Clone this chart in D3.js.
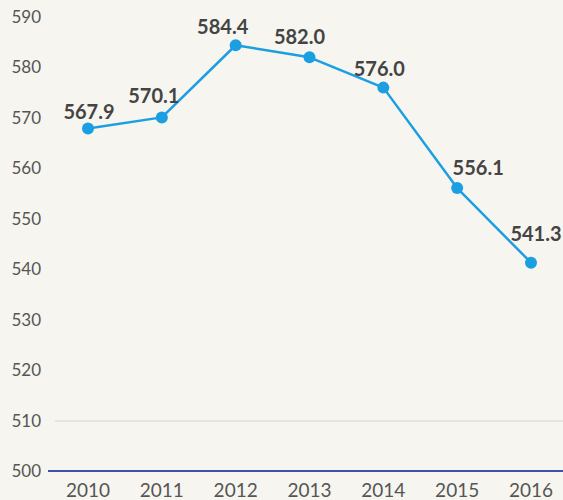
<!DOCTYPE html>
<html lang="en">
<head>
<meta charset="UTF-8">
<title>Line chart 2010-2016</title>
<script src="https://cdn.jsdelivr.net/npm/d3@7/dist/d3.min.js"></script>
<style>
  html, body { margin: 0; padding: 0; background: #f7f5ef; }
  svg { display: block; }
</style>
</head>
<body>
<svg id="chart"></svg>
<script>
    const years = ["2010", "2011", "2012", "2013", "2014", "2015", "2016"];
    const values = [567.9, 570.1, 584.4, 582.0, 576.0, 556.1, 541.3];
    const yTicks = [500, 510, 520, 530, 540, 550, 560, 570, 580, 590];

    // label nudges (dx, dy) relative to the dot, as in the original layout
    const labelShift = [[1, -16], [-8, -21], [-13, -18], [-10, -20], [-4, -19], [21, -20], [5, -29]];

    const width = 563, height = 500;

    const svg = d3.select("#chart")
        .attr("width", width)
        .attr("height", height);

    svg.append("rect")
        .attr("width", width)
        .attr("height", height)
        .attr("fill", "#f7f5ef");

    const x = d3.scalePoint()
        .domain(years)
        .range([88, 531]);

    const y = d3.scaleLinear()
        .domain([500, 590])
        .range([471, 17]);

    // y tick labels
    svg.append("g")
        .selectAll("text")
        .data(yTicks)
        .join("text")
        .attr("x", 41)
        .attr("y", d => y(d))
        .attr("dy", "0.35em")
        .attr("text-anchor", "end")
        .attr("fill", "#555")
        .style("font", "17px Lato, sans-serif")
        .text(d => d);

    // the one faint gridline at 510
    svg.append("line")
        .attr("x1", 55).attr("x2", width)
        .attr("y1", y(510) + 0.5).attr("y2", y(510) + 0.5)
        .attr("stroke", "#d9d6cf")
        .attr("stroke-width", 1);

    // baseline
    svg.append("line")
        .attr("x1", 48).attr("x2", width)
        .attr("y1", y(500)).attr("y2", y(500))
        .attr("stroke", "#3f51a8")
        .attr("stroke-width", 2);

    // x labels
    svg.append("g")
        .selectAll("text")
        .data(years)
        .join("text")
        .attr("x", d => x(d))
        .attr("y", 490)
        .attr("dy", "0.35em")
        .attr("text-anchor", "middle")
        .attr("fill", "#555")
        .style("font", "19px Lato, sans-serif")
        .text(d => d);

    const pts = years.map((yr, i) => ({year: yr, value: values[i], i: i}));

    const line = d3.line()
        .x(d => x(d.year))
        .y(d => y(d.value));

    svg.append("path")
        .datum(pts)
        .attr("fill", "none")
        .attr("stroke", "#1a9fe2")
        .attr("stroke-width", 2.5)
        .attr("stroke-linejoin", "round")
        .attr("d", line);

    svg.append("g")
        .selectAll("circle")
        .data(pts)
        .join("circle")
        .attr("cx", d => x(d.year))
        .attr("cy", d => y(d.value))
        .attr("r", 6)
        .attr("fill", "#1a9fe2");

    svg.append("g")
        .selectAll("text")
        .data(pts)
        .join("text")
        .attr("x", d => x(d.year) + labelShift[d.i][0])
        .attr("y", d => y(d.value) + labelShift[d.i][1])
        .attr("dy", "0.35em")
        .attr("text-anchor", "middle")
        .attr("fill", "#444")
        .style("font", "bold 20px Lato, sans-serif")
        .text(d => d.value.toFixed(1));
</script>
</body>
</html>
